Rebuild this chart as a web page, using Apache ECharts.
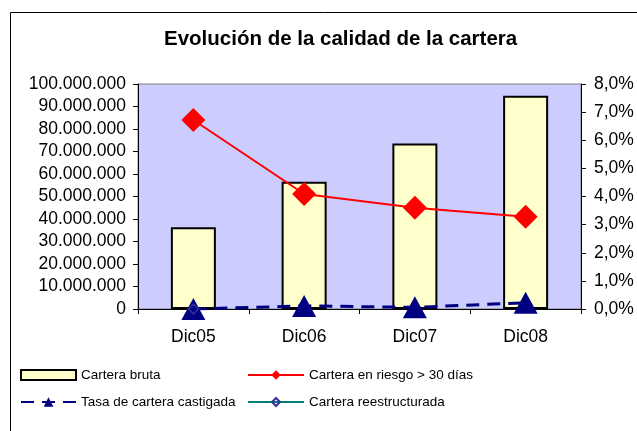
<!DOCTYPE html>
<html><head><meta charset="utf-8">
<script src="https://cdn.jsdelivr.net/npm/echarts@6/dist/echarts.min.js"></script>
<style>html,body{margin:0;padding:0;background:#fff}#c{width:637px;height:431px}</style>
</head><body><div id="c"></div>
<script>
const categories = ['Dic05', 'Dic06', 'Dic07', 'Dic08'];
const carteraBruta = [36300000, 56600000, 73600000, 94800000];
const riesgo30 = [0.0672, 0.0409, 0.0360, 0.0328];
const castigada = [0.0000, 0.0011, 0.0006, 0.0022];
const reestructurada = [0, null, null, null];
const leftTicks = {min: 0, max: 100000000, interval: 10000000};
const rightTicks = {min: 0, max: 0.08, interval: 0.01};

const FONT = 'Liberation Sans, Arial, sans-serif';
function fmtThousands(v){ return String(Math.round(v)).replace(/\B(?=(\d{3})+(?!\d))/g, '.'); }
function fmtPct(v){ return (v*100).toFixed(1).replace('.', ',') + '%'; }

const chart = echarts.init(document.getElementById('c'), null, {renderer: 'canvas'});
const legendText = {fontFamily: FONT, fontSize: 13.5, color: '#000'};
const AX = 17.5;
chart.setOption({
  animation: false,
  backgroundColor: '#fff',
  title: {text: 'Evolución de la calidad de la cartera', left: 164, top: 29, padding: 0,
    textStyle: {fontFamily: FONT, fontSize: 20.5, fontWeight: 'bold', color: '#000'}},
  graphic: [{type: 'rect', shape: {x: 10.5, y: 12.5, width: 640, height: 440}, style: {fill: 'none', stroke: '#000', lineWidth: 1}, silent: true}],
  grid: {left: 138, right: 56, top: 84, bottom: 122, show: true, backgroundColor: '#CCCCFF', borderColor: '#808080', borderWidth: 1},
  legend: [
    {data: [{name: 'Cartera bruta', icon: 'rect'}], left: 20, top: 368, padding: 0, itemWidth: 55, itemHeight: 10, textStyle: legendText},
    {data: ['Cartera en riesgo > 30 días'], left: 247, top: 368, padding: 0, itemWidth: 56, itemHeight: 12, textStyle: legendText},
    {data: ['Tasa de cartera castigada'], left: 20, top: 395, padding: 0, itemWidth: 55, itemHeight: 12, textStyle: legendText},
    {data: ['Cartera reestructurada'], left: 247, top: 395, padding: 0, itemWidth: 56, itemHeight: 10, textStyle: legendText}
  ],
  xAxis: {type: 'category', data: categories,
    axisLine: {lineStyle: {color: '#000', width: 1}},
    axisTick: {show: true, length: 5, lineStyle: {color: '#000'}},
    axisLabel: {fontFamily: FONT, fontSize: AX, color: '#000', margin: 19}},
  yAxis: [
    {type: 'value', min: leftTicks.min, max: leftTicks.max, interval: leftTicks.interval,
      axisLine: {show: true, lineStyle: {color: '#000'}}, axisTick: {show: true, length: 5, lineStyle: {color: '#000'}},
      splitLine: {show: false},
      axisLabel: {fontFamily: FONT, fontSize: AX, color: '#000', margin: 12, formatter: fmtThousands}},
    {type: 'value', min: rightTicks.min, max: rightTicks.max, interval: rightTicks.interval, position: 'right',
      axisLine: {show: true, lineStyle: {color: '#000'}}, axisTick: {show: true, length: 5, lineStyle: {color: '#000'}},
      splitLine: {show: false},
      axisLabel: {fontFamily: FONT, fontSize: AX, color: '#000', margin: 13, formatter: fmtPct}}
  ],
  series: [
    {name: 'Cartera bruta', type: 'bar', data: carteraBruta, yAxisIndex: 0, barWidth: 45,
      itemStyle: {color: '#FFFFCC', borderColor: '#000', borderWidth: 2}},
    {name: 'Cartera en riesgo > 30 días', type: 'line', data: riesgo30, yAxisIndex: 1,
      symbol: 'diamond', symbolSize: 24, lineStyle: {color: '#FF0000', width: 2}, itemStyle: {color: '#FF0000'}},
    {name: 'Tasa de cartera castigada', type: 'line', data: castigada, yAxisIndex: 1,
      symbol: 'triangle', symbolSize: [24, 22], lineStyle: {color: '#000080', width: 3, type: [13, 8]}, itemStyle: {color: '#000080'}},
    {name: 'Cartera reestructurada', type: 'line', data: reestructurada, yAxisIndex: 1, z: 5,
      symbol: 'diamond', symbolSize: 10, showAllSymbol: true, lineStyle: {color: '#008080', width: 2},
      itemStyle: {color: 'none', borderColor: '#333399', borderWidth: 1.5}}
  ]
});
</script></body></html>
